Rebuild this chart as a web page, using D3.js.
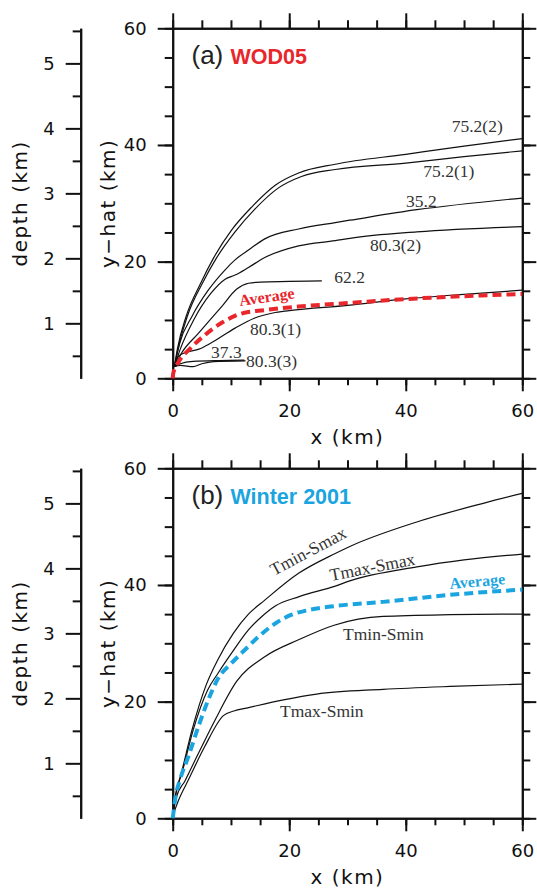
<!DOCTYPE html>
<html>
<head>
<meta charset="utf-8">
<script src="https://cdn.jsdelivr.net/npm/d3@7"></script>
<style>
  body { margin: 0; background: #fff; }
  .tick text { font-family: "DejaVu Sans", sans-serif; font-size: 18px; fill: #111; }
  .axisTitle { font-family: "DejaVu Sans", sans-serif; font-size: 20px; letter-spacing: 1.5px; fill: #111; }
  .curveLabel { font-family: "Liberation Serif", serif; font-size: 17.5px; fill: #333; }
</style>
</head>
<body>
<div class="chart"></div>
<script>
// Tick values
var majorTicks = [0, 20, 40, 60];
var minorTicks = d3.range(0, 61, 5);
var depthMajor = [1, 2, 3, 4, 5];
var depthMinor = [0.5, 1.5, 2.5, 3.5, 4.5, 5.5];

// Panel (a) WOD05 : [x km, y-hat km]
var wod752_2 = [[0.3,2],[0.8,5],[2.3,10.6],[4.8,16.3],[7.0,20.6],[10.1,25.4],[13.6,29.4],[17.6,33.1],[21.6,35.2],[27.9,36.7],[40,38.4],[50,39.8],[60,41.1]];
var wod752_1 = [[0.3,2],[0.9,5],[2.5,10.6],[5.1,16.3],[7.5,20.6],[10.7,25.1],[14.1,29.0],[18.1,32.6],[22.1,34.6],[27.9,35.8],[40,36.9],[50,38.0],[60,39.0]];
var wod352 = [[0.3,2],[1.2,6],[3.3,10.6],[6.1,15.1],[9.0,18.6],[10.7,20.3],[13,22],[15.8,23.9],[21.6,25.6],[27.9,26.7],[30.4,27.1],[41.9,28.9],[60,30.9]];
var wod803_2 = [[0.3,2],[1.3,5],[3.6,10],[6.5,14.5],[9,17],[10.7,17.7],[13,19],[15.8,20.7],[21.6,22.7],[27.9,23.6],[30.4,24.0],[41.9,25.1],[60,26.0]];
var wod622 = [[0.3,2],[1.5,4.3],[4.4,7.7],[8.4,12.3],[11,15.3],[13,16.3],[15,16.5],[20,16.6],[25.6,16.7]];
var wod803_1 = [[0.3,2],[1,3.8],[2.5,4.5],[4.5,5.0],[6.5,6.0],[10.7,8.6],[14,10.3],[17.2,11.2],[20,11.6],[30,12.5],[40,13.6],[50,14.4],[60,15.1]];
var wod373 = [[0.3,2],[1.3,2.5],[3.5,2.9],[8,3.05],[12.3,3.1]];
var wod803_3 = [[0.3,2],[1.3,2.2],[3.5,2.0],[5,2.5],[7,2.85],[12.5,3.0]];
var wodAverage = [[0,0],[0.1,0.9],[1,2.8],[3,5.1],[5.5,7.4],[8.7,9.7],[11.8,11.1],[15.8,11.7],[21.6,12.3],[30,12.9],[42,13.7],[53,14.2],[60,14.45]];

// Panel (b) Winter 2001
var tminSmax = [[0,0.4],[0.5,4],[1.5,7.8],[3.3,15.1],[5.8,23.0],[7.7,27.1],[10.4,31.7],[13,35],[15.8,37.4],[21.6,42.0],[27.9,45.4],[30.4,46.6],[41.9,50.8],[53.3,54.0],[60,55.7]];
var tmaxSmax = [[0,0.4],[0.5,4],[1.6,7.8],[3.5,15.1],[6.0,22],[7.8,24.9],[10.1,28.3],[13.0,32.3],[15.3,34.6],[17.6,36.4],[21.7,38.0],[27.9,39.8],[30.4,40.7],[41.9,43.1],[50,44.3],[60,45.3]];
var tminSmin = [[0,0.4],[0.6,3.5],[2.1,6.4],[4.4,11.1],[7.3,16.9],[11.0,23.5],[15.8,27.7],[21.6,30.6],[27.7,33.1],[36.1,34.6],[47.6,34.9],[60,35.0]];
var tmaxSmin = [[0,0.4],[1.0,3.1],[2.7,6.6],[5.5,12.3],[8.7,17.6],[10.5,18.4],[12.7,18.9],[19.0,20.3],[24.7,21.3],[36.1,22.1],[47.6,22.6],[60,23.0]];
var winterAverage = [[0,0],[0.2,1.5],[0.4,3.1],[1.25,6.6],[2.7,10.6],[4.4,15.7],[6.1,20.3],[7.8,24.0],[10.1,26.6],[12.4,28.9],[14.7,31.1],[17.6,33.4],[20.4,34.9],[23.3,35.7],[27.9,36.4],[36.1,37.1],[47.6,38.3],[60,39.2]];

// Labels
var wodLabels = ["75.2(2)", "75.2(1)", "35.2", "80.3(2)", "62.2", "80.3(1)", "37.3", "80.3(3)"];
var winterLabels = ["Tmin-Smax", "Tmax-Smax", "Tmin-Smin", "Tmax-Smin"];

var svgWidth = 537;
var svgHeight = 889;
var plotLeft = 172.7, plotRight = 522.3, plotSize = 350;
var red = "#e8262b", blue = "#1ba5e0";

var svg = d3.select(".chart")
  .append("svg")
  .attr("width", svgWidth)
  .attr("height", svgHeight);

function drawPanel(top, letter, title, color, curves, avg, labels, avgLabel) {
  var g = svg.append("g");
  var x = d3.scaleLinear().domain([0, 60]).range([plotLeft, plotRight]);
  var y = d3.scaleLinear().domain([0, 60]).range([top + plotSize, top]);
  var depth = d3.scaleLinear().domain([0.154, 5.54]).range([top + plotSize, top]);

  function addAxis(axis, transform, labelled) {
    var a = g.append("g").attr("transform", transform).call(axis);
    a.selectAll("path, line").attr("stroke", "#111").attr("stroke-width", 2);
    a.selectAll("text").attr("fill", "#111").attr("font-family", null).attr("font-size", null);
    if (!labelled) a.selectAll("text").remove();
    return a;
  }

  // minor ticks
  addAxis(d3.axisLeft(y).tickValues(minorTicks).tickSize(8).tickSizeOuter(0), `translate(${plotLeft},0)`, false);
  addAxis(d3.axisRight(y).tickValues(minorTicks).tickSize(8).tickSizeOuter(0), `translate(${plotRight},0)`, false);
  addAxis(d3.axisTop(x).tickValues(minorTicks).tickSize(8).tickSizeOuter(0), `translate(0,${top})`, false);
  addAxis(d3.axisBottom(x).tickValues(minorTicks).tickSize(7).tickSizeOuter(0), `translate(0,${top + plotSize})`, false);
  // major ticks
  addAxis(d3.axisLeft(y).tickValues(majorTicks).tickSize(15).tickSizeOuter(0).tickPadding(11), `translate(${plotLeft},0)`, true);
  addAxis(d3.axisRight(y).tickValues(majorTicks).tickSize(14).tickSizeOuter(0), `translate(${plotRight},0)`, false);
  addAxis(d3.axisTop(x).tickValues(majorTicks).tickSize(15).tickSizeOuter(0), `translate(0,${top})`, false);
  addAxis(d3.axisBottom(x).tickValues(majorTicks).tickSize(13).tickSizeOuter(0).tickPadding(13), `translate(0,${top + plotSize})`, true);

  // depth axis
  addAxis(d3.axisLeft(depth).tickValues(depthMinor).tickSize(8).tickSizeOuter(0), `translate(80.7,0)`, false);
  addAxis(d3.axisLeft(depth).tickValues(depthMajor).tickSize(15).tickSizeOuter(0).tickPadding(11)
    .tickFormat(d3.format("d")), `translate(80.7,0)`, true);

  // axis titles
  g.append("text").attr("class", "axisTitle")
    .attr("transform", `translate(114.7, ${top + plotSize / 2}) rotate(-90)`)
    .attr("text-anchor", "middle").text("y\u2212hat (km)");
  g.append("text").attr("class", "axisTitle")
    .attr("transform", `translate(26.7, ${top + plotSize / 2}) rotate(-90)`)
    .attr("text-anchor", "middle").text("depth (km)");
  g.append("text").attr("class", "axisTitle")
    .attr("x", (plotLeft + plotRight) / 2).attr("y", top + plotSize + 66)
    .attr("text-anchor", "middle").text("x (km)");

  // curves
  var line = d3.line().x(d => x(d[0])).y(d => y(d[1])).curve(d3.curveMonotoneX);
  curves.forEach(function(c) {
    g.append("path").attr("d", line(c)).attr("fill", "none")
      .attr("stroke", "#111").attr("stroke-width", 1.2);
  });
  g.append("path").attr("d", line(avg)).attr("fill", "none")
    .attr("stroke", color).attr("stroke-width", 4).attr("stroke-dasharray", "9,5");

  // curve labels
  labels.forEach(function(l) {
    g.append("text").attr("class", "curveLabel")
      .attr("transform", `translate(${l.x}, ${l.y + top}) rotate(${l.r || 0})`)
      .text(l.text);
  });
  g.append("text")
    .attr("transform", `translate(${avgLabel.x}, ${avgLabel.y + top}) rotate(${avgLabel.r})`)
    .attr("font-family", "Liberation Serif, serif").attr("font-weight", "bold")
    .attr("font-size", "16px").attr("fill", color).text("Average");

  // panel title
  var t = g.append("text").attr("x", 191.5).attr("y", top + 35.7)
    .attr("font-family", "Liberation Sans, Arial, sans-serif");
  t.append("tspan").attr("font-size", "26px").attr("fill", "#222").text(letter + " ");
  t.append("tspan").attr("font-size", "21.5px").attr("font-weight", "bold").attr("fill", color).text(title);
}

drawPanel(28.3, "(a)", "WOD05", red,
  [wod752_2, wod752_1, wod352, wod803_2, wod622, wod803_1, wod373, wod803_3],
  wodAverage,
  [
    {text: wodLabels[0], x: 451.7, y: 103.7},
    {text: wodLabels[1], x: 423.3, y: 148.7},
    {text: wodLabels[2], x: 406, y: 178.2},
    {text: wodLabels[3], x: 370, y: 222.2},
    {text: wodLabels[4], x: 334.3, y: 254.7},
    {text: wodLabels[5], x: 250, y: 306.7},
    {text: wodLabels[6], x: 211, y: 329.7},
    {text: wodLabels[7], x: 246, y: 338.7}
  ],
  {x: 240, y: 277.7, r: -8});

drawPanel(468.3, "(b)", "Winter 2001", blue,
  [tminSmax, tmaxSmax, tminSmin, tmaxSmin],
  winterAverage,
  [
    {text: winterLabels[0], x: 274, y: 107.7, r: -28},
    {text: winterLabels[1], x: 331, y: 112.7, r: -11},
    {text: winterLabels[2], x: 343, y: 171.7},
    {text: winterLabels[3], x: 280, y: 248.4}
  ],
  {x: 450, y: 120.7, r: -5});
</script>
</body>
</html>
